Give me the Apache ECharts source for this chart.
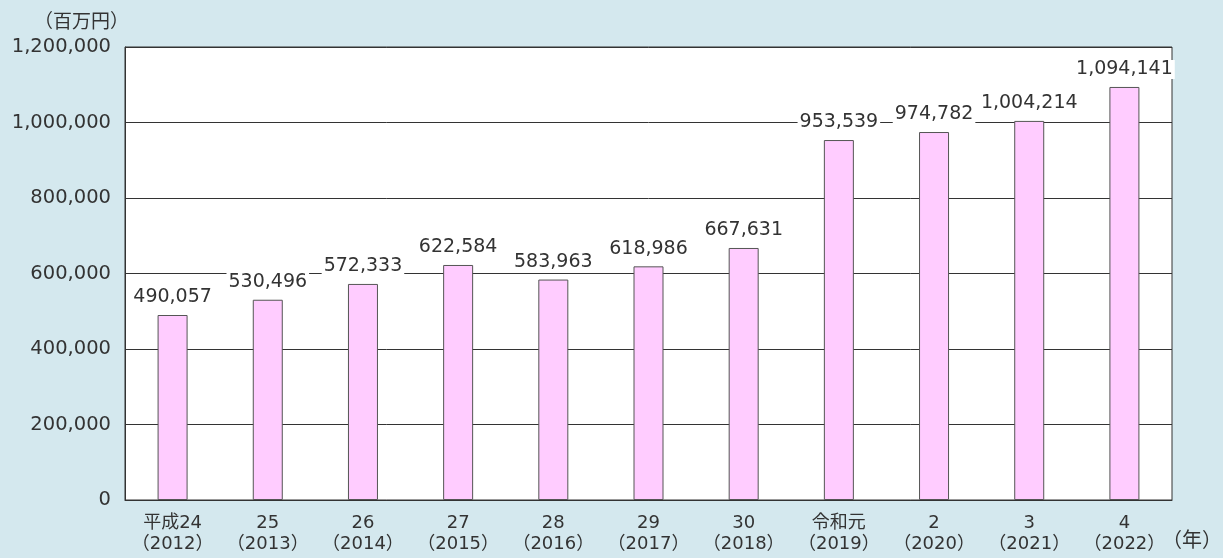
<!DOCTYPE html>
<html><head><meta charset="utf-8">
<script src="https://cdn.jsdelivr.net/npm/echarts@6/dist/echarts.min.js"></script>
<style>html,body{margin:0;padding:0;background:#d4e8ee;}#c{width:1223px;height:558px;}</style>
</head><body><div id="c"></div>
<script>
const categories = ['平成24\n（2012）','25\n（2013）','26\n（2014）','27\n（2015）','28\n（2016）','29\n（2017）','30\n（2018）','令和元\n（2019）','2\n（2020）','3\n（2021）','4\n（2022）'];
const values = [490057, 530496, 572333, 622584, 583963, 618986, 667631, 953539, 974782, 1004214, 1094141];
const yUnit = '（百万円）';
const xUnit = '（年）';
const FONT = '"DejaVu Sans", "Noto Sans CJK JP", sans-serif';
const chart = echarts.init(document.getElementById('c'), null, {renderer: 'canvas'});
chart.setOption({
  backgroundColor: '#d4e8ee',
  textStyle: {fontFamily: FONT},
  grid: {left: 125, right: 51, top: 47, bottom: 58, show: true, backgroundColor: '#ffffff', borderColor: '#333333', borderWidth: 1, containLabel: false},
  xAxis: {
    type: 'category', data: categories,
    axisLine: {show: true, lineStyle: {color: '#333333'}},
    axisTick: {show: false},
    axisLabel: {color: '#333333', fontSize: 18, lineHeight: 21, margin: 13, fontFamily: FONT, interval: 0}
  },
  yAxis: {
    type: 'value', min: 0, max: 1200000, interval: 200000,
    name: yUnit, nameLocation: 'end', nameGap: 14,
    nameTextStyle: {color: '#333333', fontSize: 19, fontFamily: FONT, align: 'right', padding: [0, -4, 0, 0]},
    axisLine: {show: true, lineStyle: {color: '#333333'}},
    axisTick: {show: false},
    axisLabel: {color: '#333333', fontSize: 19.5, margin: 14, fontFamily: FONT, formatter: v => v.toLocaleString('en-US')},
    splitLine: {show: true, lineStyle: {color: '#333333', width: 1}}
  },
  graphic: [{type: 'text', right: 1, top: 532, style: {text: xUnit, fill: '#333333', font: '20px ' + FONT}}],
  series: [{
    type: 'bar', data: values, barWidth: 30,
    itemStyle: {color: '#ffccff', borderColor: '#555555', borderWidth: 1},
    label: {show: true, position: 'top', distance: 8, color: '#333333', fontSize: 19, fontFamily: FONT,
      backgroundColor: '#ffffff', padding: [0, 2, 0, 2],
      formatter: p => p.value.toLocaleString('en-US')}
  }]
});
</script></body></html>
